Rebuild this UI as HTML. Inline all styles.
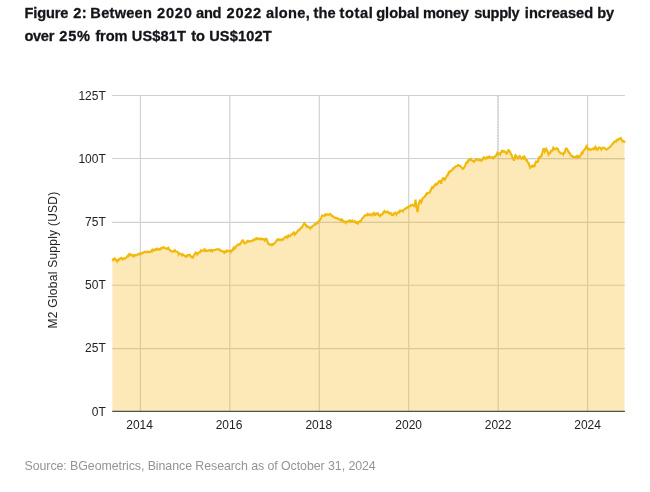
<!DOCTYPE html>
<html><head><meta charset="utf-8">
<style>
html,body{margin:0;padding:0;background:#fff;}
body{width:650px;height:492px;position:relative;overflow:hidden;will-change:transform;font-family:"Liberation Sans",sans-serif;}
.title{position:absolute;left:0;top:1.5px;font-weight:bold;font-size:14.6px;line-height:23px;color:#14151a;white-space:nowrap;-webkit-text-stroke:0.3px #14151a;}
.title span{position:absolute;}
.src{position:absolute;left:24.5px;top:456.6px;font-size:12.4px;line-height:18px;color:#949494;letter-spacing:-0.07px;white-space:nowrap;}
.ax{font-family:"Liberation Sans",sans-serif;font-size:12px;fill:#222;}
</style></head><body>
<svg width="650" height="492" viewBox="0 0 650 492" style="position:absolute;left:0;top:0">
<line x1="112.2" x2="624.9" y1="95.5" y2="95.5" stroke="#d0d0d0" stroke-width="1.1"/>
<line x1="112.2" x2="624.9" y1="158.5" y2="158.5" stroke="#d0d0d0" stroke-width="1.1"/>
<line x1="112.2" x2="624.9" y1="222.4" y2="222.4" stroke="#d0d0d0" stroke-width="1.1"/>
<line x1="112.2" x2="624.9" y1="285.2" y2="285.2" stroke="#d0d0d0" stroke-width="1.1"/>
<line x1="112.2" x2="624.9" y1="348.6" y2="348.6" stroke="#d0d0d0" stroke-width="1.1"/>
<line x1="140.4" x2="140.4" y1="95.4" y2="411.4" stroke="#d2d2d2" stroke-width="1.2"/>
<line x1="229.8" x2="229.8" y1="95.4" y2="411.4" stroke="#d2d2d2" stroke-width="1.2"/>
<line x1="319.3" x2="319.3" y1="95.4" y2="411.4" stroke="#d2d2d2" stroke-width="1.2"/>
<line x1="408.7" x2="408.7" y1="95.4" y2="411.4" stroke="#d2d2d2" stroke-width="1.2"/>
<line x1="498.2" x2="498.2" y1="95.4" y2="411.4" stroke="#d2d2d2" stroke-width="1.2"/>
<line x1="587.6" x2="587.6" y1="95.4" y2="411.4" stroke="#d2d2d2" stroke-width="1.2"/>
<line x1="497.6" x2="497.6" y1="96" y2="158.5" stroke="#c4c4c4" stroke-width="1" stroke-dasharray="1.1 1.7"/>
<line x1="498.5" x2="624.9" y1="159.1" y2="159.1" stroke="#c8c8c8" stroke-width="1" stroke-dasharray="0.9 0.85"/>
<path d="M112.4 260.9 L113.2 259.4 L114.0 259.0 L114.2 258.4 L114.8 258.3 L115.6 259.9 L116.4 260.4 L117.0 261.2 L117.2 260.3 L118.0 260.6 L118.8 259.3 L119.6 259.5 L120.4 258.4 L121.2 257.9 L121.6 258.4 L122.0 258.5 L122.8 259.5 L123.5 259.3 L123.6 258.6 L124.4 258.1 L125.2 258.2 L126.0 258.1 L126.8 256.9 L127.6 255.9 L128.4 256.3 L129.2 254.1 L129.9 254.3 L130.0 255.0 L130.8 254.5 L131.6 254.7 L132.4 255.2 L132.7 256.0 L133.2 255.5 L134.0 256.2 L134.8 254.9 L135.6 255.4 L136.4 255.3 L137.2 254.6 L138.0 254.7 L138.8 253.7 L139.6 253.5 L140.1 254.1 L140.4 253.5 L141.2 253.9 L142.0 253.1 L142.8 252.5 L143.6 252.6 L144.4 252.0 L144.7 251.9 L145.2 251.6 L146.0 252.4 L146.8 252.2 L147.6 251.5 L148.4 252.0 L149.2 251.9 L149.3 251.9 L150.0 252.2 L150.8 251.6 L151.6 250.4 L152.4 251.2 L153.0 250.1 L153.2 249.4 L154.0 249.8 L154.8 250.3 L155.6 249.1 L156.4 249.6 L157.2 248.7 L158.0 249.7 L158.8 249.7 L159.5 249.2 L159.6 249.3 L160.4 249.4 L161.2 248.0 L162.0 248.2 L162.8 247.7 L163.2 247.3 L163.6 247.5 L164.4 247.6 L165.2 248.4 L166.0 248.8 L166.8 248.2 L167.6 248.8 L168.4 248.0 L168.7 248.8 L169.2 249.5 L170.0 250.0 L170.8 251.2 L171.6 251.5 L172.4 251.6 L172.4 251.2 L173.2 251.2 L174.0 251.5 L174.8 250.3 L175.2 251.0 L175.6 251.2 L176.4 251.4 L177.2 251.9 L178.0 252.4 L178.8 253.8 L178.8 254.3 L179.6 253.4 L180.4 253.8 L181.2 254.3 L182.0 255.4 L182.8 254.3 L183.6 255.1 L184.4 255.5 L185.2 256.4 L186.0 256.5 L186.2 256.0 L186.8 256.4 L187.6 255.1 L188.4 255.1 L189.2 254.7 L189.9 254.7 L190.0 255.5 L190.8 256.7 L191.6 256.4 L192.4 257.5 L192.7 258.4 L193.2 256.9 L194.0 255.3 L194.8 254.2 L195.5 252.8 L195.6 253.0 L196.4 253.1 L197.2 253.4 L197.3 254.3 L198.0 253.5 L198.8 252.6 L199.6 252.1 L200.4 252.0 L201.0 250.6 L201.2 250.9 L202.0 250.5 L202.8 250.6 L203.6 250.6 L204.4 249.5 L205.2 250.8 L205.6 250.1 L206.0 250.6 L206.8 250.9 L207.6 250.9 L208.4 250.3 L209.2 250.4 L210.0 250.0 L210.8 251.0 L211.6 250.2 L212.1 251.0 L212.4 250.2 L213.2 250.3 L214.0 250.1 L214.8 250.2 L215.6 249.6 L216.4 249.3 L217.2 249.5 L218.0 249.2 L218.8 249.5 L219.6 249.6 L219.6 248.8 L220.4 250.8 L221.2 250.9 L222.0 250.7 L222.8 251.4 L223.6 252.1 L224.2 252.8 L224.4 252.4 L225.2 251.3 L226.0 251.9 L226.8 251.5 L227.0 250.5 L227.6 250.7 L228.4 251.0 L229.2 250.6 L230.0 250.9 L230.7 251.8 L230.8 251.4 L231.6 250.4 L232.4 250.5 L233.2 248.5 L233.5 248.7 L234.0 247.5 L234.8 248.5 L235.6 247.2 L236.4 245.9 L237.2 245.9 L237.2 246.0 L238.0 244.4 L238.8 244.6 L239.6 244.8 L239.9 243.7 L240.4 243.7 L241.2 242.5 L242.0 240.8 L242.7 240.4 L242.8 240.4 L243.6 241.5 L244.4 244.0 L244.5 243.7 L245.2 243.2 L246.0 243.0 L246.8 241.7 L247.6 240.9 L248.2 240.9 L248.4 241.4 L249.2 241.6 L250.0 241.3 L250.8 241.1 L251.6 241.1 L252.4 240.9 L252.8 240.4 L253.2 239.8 L254.0 240.0 L254.8 239.5 L255.6 238.6 L256.4 238.3 L256.5 239.1 L257.2 238.6 L258.0 238.4 L258.8 239.1 L259.6 239.4 L260.4 238.4 L261.2 239.1 L262.0 239.0 L262.1 238.2 L262.8 239.5 L263.6 239.2 L264.4 239.6 L264.8 240.4 L265.2 239.5 L266.0 238.7 L266.3 238.9 L266.8 239.5 L267.6 241.9 L268.4 244.2 L268.5 243.7 L269.2 244.5 L270.0 244.2 L270.8 244.8 L271.6 245.3 L272.2 245.0 L272.4 244.1 L273.2 244.3 L274.0 243.9 L274.8 242.9 L275.6 242.1 L276.4 240.8 L277.2 239.5 L277.8 239.5 L278.0 240.0 L278.8 239.2 L279.6 240.0 L280.4 240.3 L281.2 239.3 L282.0 239.3 L282.4 239.5 L282.8 240.0 L283.6 239.2 L284.4 237.7 L285.2 237.2 L286.0 236.7 L286.8 237.5 L287.0 236.7 L287.6 237.0 L288.4 235.5 L289.2 236.4 L290.0 236.3 L290.7 235.2 L290.8 235.4 L291.6 234.4 L292.4 234.2 L293.2 233.0 L293.5 233.4 L294.0 232.7 L294.8 234.6 L295.3 233.9 L295.6 233.8 L296.4 232.5 L297.2 232.1 L298.0 230.2 L298.1 230.2 L298.8 230.4 L299.6 229.8 L300.4 228.2 L301.2 227.8 L301.8 227.8 L302.0 227.1 L302.8 225.5 L303.6 224.6 L304.2 223.4 L304.4 223.2 L305.2 224.4 L306.0 224.9 L306.4 226.0 L306.8 226.9 L307.6 226.3 L308.4 226.9 L309.2 227.5 L310.0 228.4 L310.1 227.8 L310.8 227.2 L311.6 227.5 L312.4 226.2 L313.2 225.7 L313.8 225.2 L314.0 225.2 L314.8 224.0 L315.6 224.4 L316.4 223.6 L316.5 224.1 L317.2 222.5 L318.0 222.9 L318.8 221.0 L319.3 221.0 L319.6 220.4 L320.4 219.3 L321.2 217.6 L322.0 215.7 L322.1 215.8 L322.8 215.7 L323.6 215.6 L324.4 215.8 L325.2 214.5 L325.8 215.1 L326.0 215.2 L326.8 214.4 L327.6 214.3 L328.4 214.9 L329.2 214.3 L330.0 214.2 L330.4 214.0 L330.8 214.8 L331.6 215.8 L332.4 215.7 L333.2 216.7 L333.8 217.1 L334.0 217.2 L334.8 217.5 L335.6 218.1 L336.4 217.9 L337.2 218.4 L337.5 218.4 L338.0 218.5 L338.8 219.5 L339.6 219.4 L340.4 219.9 L341.2 219.5 L341.2 220.3 L342.0 219.6 L342.8 220.7 L343.6 221.9 L344.4 222.2 L345.2 221.6 L345.8 222.6 L346.0 221.9 L346.8 222.1 L347.6 221.2 L348.4 221.2 L349.2 220.6 L350.0 221.3 L350.5 220.8 L350.8 221.4 L351.6 221.7 L352.4 220.7 L353.2 221.8 L354.0 221.9 L354.2 221.7 L354.8 221.2 L355.6 222.7 L356.4 223.0 L357.2 222.0 L357.8 222.6 L358.0 223.2 L358.8 221.8 L359.6 221.4 L360.4 221.8 L360.6 220.8 L361.2 220.6 L362.0 218.5 L362.8 217.9 L363.6 217.1 L364.3 216.2 L364.4 215.9 L365.2 215.3 L366.0 215.1 L366.8 215.4 L367.1 214.9 L367.6 214.1 L368.4 215.0 L369.2 214.8 L370.0 214.1 L370.8 214.9 L370.8 214.6 L371.6 214.9 L372.4 214.4 L373.2 213.4 L374.0 214.8 L374.5 213.8 L374.8 214.3 L375.6 214.8 L376.4 213.4 L377.2 213.8 L378.0 213.5 L378.2 214.3 L378.8 215.3 L379.6 215.1 L380.0 215.8 L380.4 214.8 L381.2 214.5 L382.0 214.6 L382.8 213.7 L383.6 212.0 L384.4 211.1 L384.6 211.5 L385.2 212.4 L386.0 212.0 L386.8 212.4 L387.6 211.6 L388.3 212.5 L388.4 211.8 L389.2 213.3 L390.0 213.2 L390.8 213.0 L391.6 214.8 L392.4 214.7 L392.9 214.7 L393.2 215.0 L394.0 213.2 L394.8 213.4 L394.8 214.0 L395.6 212.9 L396.4 214.5 L396.6 213.9 L397.2 213.2 L398.0 212.3 L398.8 211.9 L399.4 211.2 L399.6 211.9 L400.4 210.8 L401.2 210.5 L402.0 211.1 L402.8 210.6 L403.1 211.0 L403.6 209.9 L404.4 209.4 L405.2 208.5 L405.8 208.8 L406.0 208.2 L406.8 207.8 L407.6 207.2 L408.4 207.5 L408.6 206.9 L409.2 206.2 L410.0 206.2 L410.8 205.2 L411.4 205.4 L411.6 205.2 L412.4 204.7 L413.2 205.1 L413.6 205.6 L414.0 205.3 L414.6 206.8 L414.8 205.6 L415.5 199.6 L415.6 200.5 L416.3 206.0 L416.4 206.0 L417.2 210.5 L417.5 212.0 L418.0 209.3 L418.6 204.5 L418.8 203.2 L419.6 201.7 L420.0 199.8 L420.4 200.6 L421.2 202.6 L421.2 202.6 L422.0 200.7 L422.5 198.6 L422.8 198.1 L423.6 197.5 L424.4 196.9 L425.2 195.8 L425.2 196.6 L426.0 194.4 L426.8 194.1 L427.1 193.1 L427.6 193.3 L428.4 193.0 L429.2 192.5 L429.8 192.5 L430.0 191.8 L430.8 189.6 L431.6 188.1 L431.7 188.5 L432.4 187.1 L433.2 187.5 L434.0 186.0 L434.8 185.1 L435.4 185.1 L435.6 184.2 L436.4 184.8 L437.2 184.1 L437.4 183.3 L438.0 183.1 L438.8 181.7 L439.6 181.0 L440.2 180.9 L440.4 181.2 L441.1 183.7 L441.2 183.3 L442.0 180.4 L442.8 178.4 L442.9 178.2 L443.6 178.1 L444.4 179.7 L444.8 179.1 L445.2 179.3 L446.0 177.4 L446.8 175.6 L447.6 175.7 L448.4 173.3 L448.5 173.5 L449.2 172.6 L450.0 171.2 L450.8 171.0 L451.6 170.4 L452.4 169.6 L453.1 168.9 L453.2 168.3 L454.0 168.3 L454.8 166.9 L455.6 166.8 L456.4 166.0 L457.2 166.0 L457.7 165.8 L458.0 165.1 L458.8 165.3 L459.6 165.9 L460.4 166.0 L460.5 166.5 L461.2 167.3 L462.0 167.9 L462.8 169.0 L463.2 168.9 L463.6 168.4 L464.4 166.9 L465.2 165.6 L466.0 163.4 L466.0 163.2 L466.8 162.2 L467.6 162.4 L468.4 160.1 L468.8 160.2 L469.2 160.4 L470.0 160.0 L470.8 158.8 L471.5 159.3 L471.6 160.0 L472.4 160.8 L473.2 161.1 L473.9 161.5 L474.0 161.8 L474.8 161.2 L475.6 159.3 L476.2 159.3 L476.4 159.4 L477.2 159.4 L478.0 160.1 L478.8 160.1 L479.6 160.2 L479.8 159.7 L480.4 160.0 L481.2 160.7 L481.7 160.2 L482.0 160.1 L482.8 159.1 L483.5 157.8 L483.6 157.4 L484.4 157.5 L485.2 158.1 L485.4 158.8 L486.0 158.2 L486.8 157.3 L487.6 158.1 L488.4 157.1 L489.1 156.6 L489.2 156.9 L490.0 157.2 L490.8 157.6 L491.6 157.7 L492.4 157.2 L492.8 158.2 L493.2 158.4 L494.0 157.6 L494.8 156.6 L495.5 156.0 L495.6 155.9 L496.4 155.1 L497.2 153.1 L497.4 153.6 L498.0 154.1 L498.8 153.5 L499.6 153.3 L500.2 154.2 L500.4 153.4 L501.2 152.5 L502.0 150.5 L502.0 150.0 L502.8 151.2 L503.6 151.8 L504.4 151.3 L504.8 151.4 L505.2 151.7 L506.0 153.0 L506.6 153.8 L506.8 153.7 L507.6 152.0 L508.4 149.9 L508.5 149.5 L509.2 151.1 L510.0 151.6 L510.3 152.9 L510.8 153.4 L511.6 155.2 L512.2 156.9 L512.4 157.7 L513.2 158.6 L514.0 160.6 L514.0 160.7 L514.8 157.5 L515.6 155.2 L515.8 155.4 L516.4 156.0 L517.2 157.9 L517.7 158.4 L518.0 158.4 L518.8 157.5 L519.6 156.0 L519.9 156.0 L520.4 157.0 L521.2 158.4 L521.4 158.8 L522.0 158.4 L522.8 157.3 L523.6 158.2 L524.4 156.6 L524.7 156.9 L525.2 158.6 L526.0 160.1 L526.8 160.0 L526.9 161.0 L527.6 161.8 L528.4 163.4 L528.8 163.4 L529.2 165.4 L530.0 166.9 L530.2 167.6 L530.8 166.7 L531.6 166.0 L532.4 166.6 L532.5 165.8 L533.2 165.5 L534.0 166.3 L534.6 166.3 L534.8 165.0 L535.6 162.7 L536.1 160.8 L536.4 162.0 L537.2 161.7 L537.4 162.6 L538.0 161.1 L538.8 157.9 L538.9 157.6 L539.6 157.8 L540.4 156.9 L541.2 155.5 L541.4 155.8 L542.0 154.5 L542.8 151.1 L543.5 148.8 L543.6 148.2 L544.4 149.8 L544.8 151.5 L545.2 150.7 L546.0 149.1 L546.2 148.8 L546.8 149.9 L547.6 151.5 L548.4 153.8 L548.5 154.3 L549.2 153.3 L550.0 153.3 L550.8 151.1 L551.2 151.5 L551.6 151.4 L552.4 150.4 L553.2 148.0 L553.4 148.4 L554.0 149.2 L554.8 148.9 L555.6 149.3 L556.4 148.3 L557.2 148.5 L557.7 148.8 L558.0 149.1 L558.8 151.5 L559.6 152.1 L560.4 153.0 L560.5 153.4 L561.2 153.5 L562.0 153.5 L562.8 153.4 L563.2 154.3 L563.6 153.0 L564.4 153.1 L565.1 151.5 L565.2 150.7 L566.0 147.8 L566.0 148.5 L566.8 148.7 L567.6 150.1 L568.4 151.8 L568.8 152.5 L569.2 152.4 L570.0 153.5 L570.8 155.3 L571.6 156.0 L572.4 156.6 L572.5 156.2 L573.2 156.5 L574.0 157.1 L574.8 157.3 L575.6 156.7 L576.2 156.7 L576.4 157.1 L577.2 155.9 L578.0 157.0 L578.8 156.5 L579.6 156.9 L579.8 156.5 L580.4 155.8 L581.2 153.9 L582.0 152.3 L582.6 152.1 L582.8 152.6 L583.6 150.4 L584.4 150.1 L584.8 149.7 L585.2 148.7 L586.0 147.0 L586.7 146.0 L586.8 146.6 L587.6 148.7 L588.2 149.1 L588.4 148.7 L589.2 149.6 L590.0 149.2 L590.8 149.8 L590.9 149.7 L591.6 149.4 L592.4 148.8 L593.2 148.6 L593.7 149.1 L594.0 148.2 L594.8 148.4 L595.5 146.9 L595.6 147.1 L596.4 148.4 L596.8 149.7 L597.2 149.9 L598.0 149.2 L598.7 147.5 L598.8 147.5 L599.6 147.5 L600.4 148.1 L601.1 149.1 L601.2 148.4 L602.0 148.5 L602.8 147.8 L603.6 147.8 L603.8 148.2 L604.4 147.9 L605.2 148.7 L606.0 149.4 L606.8 149.4 L607.5 149.1 L607.6 148.9 L608.4 148.2 L609.2 147.7 L610.0 146.8 L610.8 146.1 L611.2 146.0 L611.6 144.7 L612.4 143.9 L613.1 143.2 L613.2 143.9 L614.0 141.8 L614.8 141.8 L615.6 141.4 L615.8 141.0 L616.4 141.3 L617.2 139.8 L618.0 139.4 L618.6 139.5 L618.8 138.9 L619.6 138.7 L620.4 138.3 L620.8 138.1 L621.2 139.4 L622.0 140.3 L622.8 141.5 L623.2 141.4 L623.6 141.0 L624.4 142.0 L624.5 142.9 L624.5 411.4 L112.4 411.4 Z" fill="#F8B60F" fill-opacity="0.3" stroke="none"/>
<path d="M112.4 260.9 L113.2 259.4 L114.0 259.0 L114.2 258.4 L114.8 258.3 L115.6 259.9 L116.4 260.4 L117.0 261.2 L117.2 260.3 L118.0 260.6 L118.8 259.3 L119.6 259.5 L120.4 258.4 L121.2 257.9 L121.6 258.4 L122.0 258.5 L122.8 259.5 L123.5 259.3 L123.6 258.6 L124.4 258.1 L125.2 258.2 L126.0 258.1 L126.8 256.9 L127.6 255.9 L128.4 256.3 L129.2 254.1 L129.9 254.3 L130.0 255.0 L130.8 254.5 L131.6 254.7 L132.4 255.2 L132.7 256.0 L133.2 255.5 L134.0 256.2 L134.8 254.9 L135.6 255.4 L136.4 255.3 L137.2 254.6 L138.0 254.7 L138.8 253.7 L139.6 253.5 L140.1 254.1 L140.4 253.5 L141.2 253.9 L142.0 253.1 L142.8 252.5 L143.6 252.6 L144.4 252.0 L144.7 251.9 L145.2 251.6 L146.0 252.4 L146.8 252.2 L147.6 251.5 L148.4 252.0 L149.2 251.9 L149.3 251.9 L150.0 252.2 L150.8 251.6 L151.6 250.4 L152.4 251.2 L153.0 250.1 L153.2 249.4 L154.0 249.8 L154.8 250.3 L155.6 249.1 L156.4 249.6 L157.2 248.7 L158.0 249.7 L158.8 249.7 L159.5 249.2 L159.6 249.3 L160.4 249.4 L161.2 248.0 L162.0 248.2 L162.8 247.7 L163.2 247.3 L163.6 247.5 L164.4 247.6 L165.2 248.4 L166.0 248.8 L166.8 248.2 L167.6 248.8 L168.4 248.0 L168.7 248.8 L169.2 249.5 L170.0 250.0 L170.8 251.2 L171.6 251.5 L172.4 251.6 L172.4 251.2 L173.2 251.2 L174.0 251.5 L174.8 250.3 L175.2 251.0 L175.6 251.2 L176.4 251.4 L177.2 251.9 L178.0 252.4 L178.8 253.8 L178.8 254.3 L179.6 253.4 L180.4 253.8 L181.2 254.3 L182.0 255.4 L182.8 254.3 L183.6 255.1 L184.4 255.5 L185.2 256.4 L186.0 256.5 L186.2 256.0 L186.8 256.4 L187.6 255.1 L188.4 255.1 L189.2 254.7 L189.9 254.7 L190.0 255.5 L190.8 256.7 L191.6 256.4 L192.4 257.5 L192.7 258.4 L193.2 256.9 L194.0 255.3 L194.8 254.2 L195.5 252.8 L195.6 253.0 L196.4 253.1 L197.2 253.4 L197.3 254.3 L198.0 253.5 L198.8 252.6 L199.6 252.1 L200.4 252.0 L201.0 250.6 L201.2 250.9 L202.0 250.5 L202.8 250.6 L203.6 250.6 L204.4 249.5 L205.2 250.8 L205.6 250.1 L206.0 250.6 L206.8 250.9 L207.6 250.9 L208.4 250.3 L209.2 250.4 L210.0 250.0 L210.8 251.0 L211.6 250.2 L212.1 251.0 L212.4 250.2 L213.2 250.3 L214.0 250.1 L214.8 250.2 L215.6 249.6 L216.4 249.3 L217.2 249.5 L218.0 249.2 L218.8 249.5 L219.6 249.6 L219.6 248.8 L220.4 250.8 L221.2 250.9 L222.0 250.7 L222.8 251.4 L223.6 252.1 L224.2 252.8 L224.4 252.4 L225.2 251.3 L226.0 251.9 L226.8 251.5 L227.0 250.5 L227.6 250.7 L228.4 251.0 L229.2 250.6 L230.0 250.9 L230.7 251.8 L230.8 251.4 L231.6 250.4 L232.4 250.5 L233.2 248.5 L233.5 248.7 L234.0 247.5 L234.8 248.5 L235.6 247.2 L236.4 245.9 L237.2 245.9 L237.2 246.0 L238.0 244.4 L238.8 244.6 L239.6 244.8 L239.9 243.7 L240.4 243.7 L241.2 242.5 L242.0 240.8 L242.7 240.4 L242.8 240.4 L243.6 241.5 L244.4 244.0 L244.5 243.7 L245.2 243.2 L246.0 243.0 L246.8 241.7 L247.6 240.9 L248.2 240.9 L248.4 241.4 L249.2 241.6 L250.0 241.3 L250.8 241.1 L251.6 241.1 L252.4 240.9 L252.8 240.4 L253.2 239.8 L254.0 240.0 L254.8 239.5 L255.6 238.6 L256.4 238.3 L256.5 239.1 L257.2 238.6 L258.0 238.4 L258.8 239.1 L259.6 239.4 L260.4 238.4 L261.2 239.1 L262.0 239.0 L262.1 238.2 L262.8 239.5 L263.6 239.2 L264.4 239.6 L264.8 240.4 L265.2 239.5 L266.0 238.7 L266.3 238.9 L266.8 239.5 L267.6 241.9 L268.4 244.2 L268.5 243.7 L269.2 244.5 L270.0 244.2 L270.8 244.8 L271.6 245.3 L272.2 245.0 L272.4 244.1 L273.2 244.3 L274.0 243.9 L274.8 242.9 L275.6 242.1 L276.4 240.8 L277.2 239.5 L277.8 239.5 L278.0 240.0 L278.8 239.2 L279.6 240.0 L280.4 240.3 L281.2 239.3 L282.0 239.3 L282.4 239.5 L282.8 240.0 L283.6 239.2 L284.4 237.7 L285.2 237.2 L286.0 236.7 L286.8 237.5 L287.0 236.7 L287.6 237.0 L288.4 235.5 L289.2 236.4 L290.0 236.3 L290.7 235.2 L290.8 235.4 L291.6 234.4 L292.4 234.2 L293.2 233.0 L293.5 233.4 L294.0 232.7 L294.8 234.6 L295.3 233.9 L295.6 233.8 L296.4 232.5 L297.2 232.1 L298.0 230.2 L298.1 230.2 L298.8 230.4 L299.6 229.8 L300.4 228.2 L301.2 227.8 L301.8 227.8 L302.0 227.1 L302.8 225.5 L303.6 224.6 L304.2 223.4 L304.4 223.2 L305.2 224.4 L306.0 224.9 L306.4 226.0 L306.8 226.9 L307.6 226.3 L308.4 226.9 L309.2 227.5 L310.0 228.4 L310.1 227.8 L310.8 227.2 L311.6 227.5 L312.4 226.2 L313.2 225.7 L313.8 225.2 L314.0 225.2 L314.8 224.0 L315.6 224.4 L316.4 223.6 L316.5 224.1 L317.2 222.5 L318.0 222.9 L318.8 221.0 L319.3 221.0 L319.6 220.4 L320.4 219.3 L321.2 217.6 L322.0 215.7 L322.1 215.8 L322.8 215.7 L323.6 215.6 L324.4 215.8 L325.2 214.5 L325.8 215.1 L326.0 215.2 L326.8 214.4 L327.6 214.3 L328.4 214.9 L329.2 214.3 L330.0 214.2 L330.4 214.0 L330.8 214.8 L331.6 215.8 L332.4 215.7 L333.2 216.7 L333.8 217.1 L334.0 217.2 L334.8 217.5 L335.6 218.1 L336.4 217.9 L337.2 218.4 L337.5 218.4 L338.0 218.5 L338.8 219.5 L339.6 219.4 L340.4 219.9 L341.2 219.5 L341.2 220.3 L342.0 219.6 L342.8 220.7 L343.6 221.9 L344.4 222.2 L345.2 221.6 L345.8 222.6 L346.0 221.9 L346.8 222.1 L347.6 221.2 L348.4 221.2 L349.2 220.6 L350.0 221.3 L350.5 220.8 L350.8 221.4 L351.6 221.7 L352.4 220.7 L353.2 221.8 L354.0 221.9 L354.2 221.7 L354.8 221.2 L355.6 222.7 L356.4 223.0 L357.2 222.0 L357.8 222.6 L358.0 223.2 L358.8 221.8 L359.6 221.4 L360.4 221.8 L360.6 220.8 L361.2 220.6 L362.0 218.5 L362.8 217.9 L363.6 217.1 L364.3 216.2 L364.4 215.9 L365.2 215.3 L366.0 215.1 L366.8 215.4 L367.1 214.9 L367.6 214.1 L368.4 215.0 L369.2 214.8 L370.0 214.1 L370.8 214.9 L370.8 214.6 L371.6 214.9 L372.4 214.4 L373.2 213.4 L374.0 214.8 L374.5 213.8 L374.8 214.3 L375.6 214.8 L376.4 213.4 L377.2 213.8 L378.0 213.5 L378.2 214.3 L378.8 215.3 L379.6 215.1 L380.0 215.8 L380.4 214.8 L381.2 214.5 L382.0 214.6 L382.8 213.7 L383.6 212.0 L384.4 211.1 L384.6 211.5 L385.2 212.4 L386.0 212.0 L386.8 212.4 L387.6 211.6 L388.3 212.5 L388.4 211.8 L389.2 213.3 L390.0 213.2 L390.8 213.0 L391.6 214.8 L392.4 214.7 L392.9 214.7 L393.2 215.0 L394.0 213.2 L394.8 213.4 L394.8 214.0 L395.6 212.9 L396.4 214.5 L396.6 213.9 L397.2 213.2 L398.0 212.3 L398.8 211.9 L399.4 211.2 L399.6 211.9 L400.4 210.8 L401.2 210.5 L402.0 211.1 L402.8 210.6 L403.1 211.0 L403.6 209.9 L404.4 209.4 L405.2 208.5 L405.8 208.8 L406.0 208.2 L406.8 207.8 L407.6 207.2 L408.4 207.5 L408.6 206.9 L409.2 206.2 L410.0 206.2 L410.8 205.2 L411.4 205.4 L411.6 205.2 L412.4 204.7 L413.2 205.1 L413.6 205.6 L414.0 205.3 L414.6 206.8 L414.8 205.6 L415.5 199.6 L415.6 200.5 L416.3 206.0 L416.4 206.0 L417.2 210.5 L417.5 212.0 L418.0 209.3 L418.6 204.5 L418.8 203.2 L419.6 201.7 L420.0 199.8 L420.4 200.6 L421.2 202.6 L421.2 202.6 L422.0 200.7 L422.5 198.6 L422.8 198.1 L423.6 197.5 L424.4 196.9 L425.2 195.8 L425.2 196.6 L426.0 194.4 L426.8 194.1 L427.1 193.1 L427.6 193.3 L428.4 193.0 L429.2 192.5 L429.8 192.5 L430.0 191.8 L430.8 189.6 L431.6 188.1 L431.7 188.5 L432.4 187.1 L433.2 187.5 L434.0 186.0 L434.8 185.1 L435.4 185.1 L435.6 184.2 L436.4 184.8 L437.2 184.1 L437.4 183.3 L438.0 183.1 L438.8 181.7 L439.6 181.0 L440.2 180.9 L440.4 181.2 L441.1 183.7 L441.2 183.3 L442.0 180.4 L442.8 178.4 L442.9 178.2 L443.6 178.1 L444.4 179.7 L444.8 179.1 L445.2 179.3 L446.0 177.4 L446.8 175.6 L447.6 175.7 L448.4 173.3 L448.5 173.5 L449.2 172.6 L450.0 171.2 L450.8 171.0 L451.6 170.4 L452.4 169.6 L453.1 168.9 L453.2 168.3 L454.0 168.3 L454.8 166.9 L455.6 166.8 L456.4 166.0 L457.2 166.0 L457.7 165.8 L458.0 165.1 L458.8 165.3 L459.6 165.9 L460.4 166.0 L460.5 166.5 L461.2 167.3 L462.0 167.9 L462.8 169.0 L463.2 168.9 L463.6 168.4 L464.4 166.9 L465.2 165.6 L466.0 163.4 L466.0 163.2 L466.8 162.2 L467.6 162.4 L468.4 160.1 L468.8 160.2 L469.2 160.4 L470.0 160.0 L470.8 158.8 L471.5 159.3 L471.6 160.0 L472.4 160.8 L473.2 161.1 L473.9 161.5 L474.0 161.8 L474.8 161.2 L475.6 159.3 L476.2 159.3 L476.4 159.4 L477.2 159.4 L478.0 160.1 L478.8 160.1 L479.6 160.2 L479.8 159.7 L480.4 160.0 L481.2 160.7 L481.7 160.2 L482.0 160.1 L482.8 159.1 L483.5 157.8 L483.6 157.4 L484.4 157.5 L485.2 158.1 L485.4 158.8 L486.0 158.2 L486.8 157.3 L487.6 158.1 L488.4 157.1 L489.1 156.6 L489.2 156.9 L490.0 157.2 L490.8 157.6 L491.6 157.7 L492.4 157.2 L492.8 158.2 L493.2 158.4 L494.0 157.6 L494.8 156.6 L495.5 156.0 L495.6 155.9 L496.4 155.1 L497.2 153.1 L497.4 153.6 L498.0 154.1 L498.8 153.5 L499.6 153.3 L500.2 154.2 L500.4 153.4 L501.2 152.5 L502.0 150.5 L502.0 150.0 L502.8 151.2 L503.6 151.8 L504.4 151.3 L504.8 151.4 L505.2 151.7 L506.0 153.0 L506.6 153.8 L506.8 153.7 L507.6 152.0 L508.4 149.9 L508.5 149.5 L509.2 151.1 L510.0 151.6 L510.3 152.9 L510.8 153.4 L511.6 155.2 L512.2 156.9 L512.4 157.7 L513.2 158.6 L514.0 160.6 L514.0 160.7 L514.8 157.5 L515.6 155.2 L515.8 155.4 L516.4 156.0 L517.2 157.9 L517.7 158.4 L518.0 158.4 L518.8 157.5 L519.6 156.0 L519.9 156.0 L520.4 157.0 L521.2 158.4 L521.4 158.8 L522.0 158.4 L522.8 157.3 L523.6 158.2 L524.4 156.6 L524.7 156.9 L525.2 158.6 L526.0 160.1 L526.8 160.0 L526.9 161.0 L527.6 161.8 L528.4 163.4 L528.8 163.4 L529.2 165.4 L530.0 166.9 L530.2 167.6 L530.8 166.7 L531.6 166.0 L532.4 166.6 L532.5 165.8 L533.2 165.5 L534.0 166.3 L534.6 166.3 L534.8 165.0 L535.6 162.7 L536.1 160.8 L536.4 162.0 L537.2 161.7 L537.4 162.6 L538.0 161.1 L538.8 157.9 L538.9 157.6 L539.6 157.8 L540.4 156.9 L541.2 155.5 L541.4 155.8 L542.0 154.5 L542.8 151.1 L543.5 148.8 L543.6 148.2 L544.4 149.8 L544.8 151.5 L545.2 150.7 L546.0 149.1 L546.2 148.8 L546.8 149.9 L547.6 151.5 L548.4 153.8 L548.5 154.3 L549.2 153.3 L550.0 153.3 L550.8 151.1 L551.2 151.5 L551.6 151.4 L552.4 150.4 L553.2 148.0 L553.4 148.4 L554.0 149.2 L554.8 148.9 L555.6 149.3 L556.4 148.3 L557.2 148.5 L557.7 148.8 L558.0 149.1 L558.8 151.5 L559.6 152.1 L560.4 153.0 L560.5 153.4 L561.2 153.5 L562.0 153.5 L562.8 153.4 L563.2 154.3 L563.6 153.0 L564.4 153.1 L565.1 151.5 L565.2 150.7 L566.0 147.8 L566.0 148.5 L566.8 148.7 L567.6 150.1 L568.4 151.8 L568.8 152.5 L569.2 152.4 L570.0 153.5 L570.8 155.3 L571.6 156.0 L572.4 156.6 L572.5 156.2 L573.2 156.5 L574.0 157.1 L574.8 157.3 L575.6 156.7 L576.2 156.7 L576.4 157.1 L577.2 155.9 L578.0 157.0 L578.8 156.5 L579.6 156.9 L579.8 156.5 L580.4 155.8 L581.2 153.9 L582.0 152.3 L582.6 152.1 L582.8 152.6 L583.6 150.4 L584.4 150.1 L584.8 149.7 L585.2 148.7 L586.0 147.0 L586.7 146.0 L586.8 146.6 L587.6 148.7 L588.2 149.1 L588.4 148.7 L589.2 149.6 L590.0 149.2 L590.8 149.8 L590.9 149.7 L591.6 149.4 L592.4 148.8 L593.2 148.6 L593.7 149.1 L594.0 148.2 L594.8 148.4 L595.5 146.9 L595.6 147.1 L596.4 148.4 L596.8 149.7 L597.2 149.9 L598.0 149.2 L598.7 147.5 L598.8 147.5 L599.6 147.5 L600.4 148.1 L601.1 149.1 L601.2 148.4 L602.0 148.5 L602.8 147.8 L603.6 147.8 L603.8 148.2 L604.4 147.9 L605.2 148.7 L606.0 149.4 L606.8 149.4 L607.5 149.1 L607.6 148.9 L608.4 148.2 L609.2 147.7 L610.0 146.8 L610.8 146.1 L611.2 146.0 L611.6 144.7 L612.4 143.9 L613.1 143.2 L613.2 143.9 L614.0 141.8 L614.8 141.8 L615.6 141.4 L615.8 141.0 L616.4 141.3 L617.2 139.8 L618.0 139.4 L618.6 139.5 L618.8 138.9 L619.6 138.7 L620.4 138.3 L620.8 138.1 L621.2 139.4 L622.0 140.3 L622.8 141.5 L623.2 141.4 L623.6 141.0 L624.4 142.0 L624.5 142.9" fill="none" stroke="#F0B90B" stroke-width="2.1" stroke-linejoin="miter" stroke-miterlimit="3" stroke-linecap="butt"/>
<line x1="112.2" x2="624.9" y1="411.4" y2="411.4" stroke="#505050" stroke-width="1.3"/>
<text x="105.8" y="415.6" text-anchor="end" class="ax">0T</text>
<text x="105.8" y="352.4" text-anchor="end" class="ax">25T</text>
<text x="105.8" y="289.2" text-anchor="end" class="ax">50T</text>
<text x="105.8" y="226.0" text-anchor="end" class="ax">75T</text>
<text x="105.8" y="162.8" text-anchor="end" class="ax">100T</text>
<text x="105.8" y="99.6" text-anchor="end" class="ax">125T</text>
<text x="139.6" y="429" text-anchor="middle" class="ax">2014</text>
<text x="229.0" y="429" text-anchor="middle" class="ax">2016</text>
<text x="318.8" y="429" text-anchor="middle" class="ax">2018</text>
<text x="408.7" y="429" text-anchor="middle" class="ax">2020</text>
<text x="498.1" y="429" text-anchor="middle" class="ax">2022</text>
<text x="587.6" y="429" text-anchor="middle" class="ax">2024</text>
<text transform="translate(56.6,259.95) rotate(-90)" text-anchor="middle" class="ax" style="letter-spacing:0.25px">M2 Global Supply (USD)</text>
</svg>
<div class="title"><span style="left:24.45px;top:0;letter-spacing:-0.12px">Figure</span><span style="left:73.2px;top:0;letter-spacing:0.4px">2:</span><span style="left:90.35px;top:0;letter-spacing:0.258px">Between</span><span style="left:157.08px;top:0;letter-spacing:0.75px">2020</span><span style="left:196.1px;top:0;letter-spacing:-0.3px">and</span><span style="left:226.52px;top:0;letter-spacing:0.75px">2022</span><span style="left:266.05px;top:0;letter-spacing:0.31px">alone,</span><span style="left:313.5px;top:0;letter-spacing:0.15px">the</span><span style="left:339.6px;top:0;letter-spacing:0.575px">total</span><span style="left:376.15px;top:0;letter-spacing:0.02px">global</span><span style="left:423.05px;top:0;letter-spacing:-0.3px">money</span><span style="left:474.15px;top:0;letter-spacing:-0.3px">supply</span><span style="left:524.85px;top:0;letter-spacing:0.019px">increased</span><span style="left:597.3px;top:0;letter-spacing:-0.2px">by</span><span style="left:24.45px;top:23px;letter-spacing:-0.3px">over</span><span style="left:59.28px;top:23px;letter-spacing:0.75px">25%</span><span style="left:95.4px;top:23px;letter-spacing:-0.15px">from</span><span style="left:131.85px;top:23px;letter-spacing:0.1px">US$81T</span><span style="left:191.35px;top:23px;letter-spacing:-0.2px">to</span><span style="left:209.15px;top:23px;letter-spacing:0.133px">US$102T</span></div>
<div class="src"><span id="s1">Source: BGeometrics, Binance Research as of October 31, 2024</span></div>
</body></html>
